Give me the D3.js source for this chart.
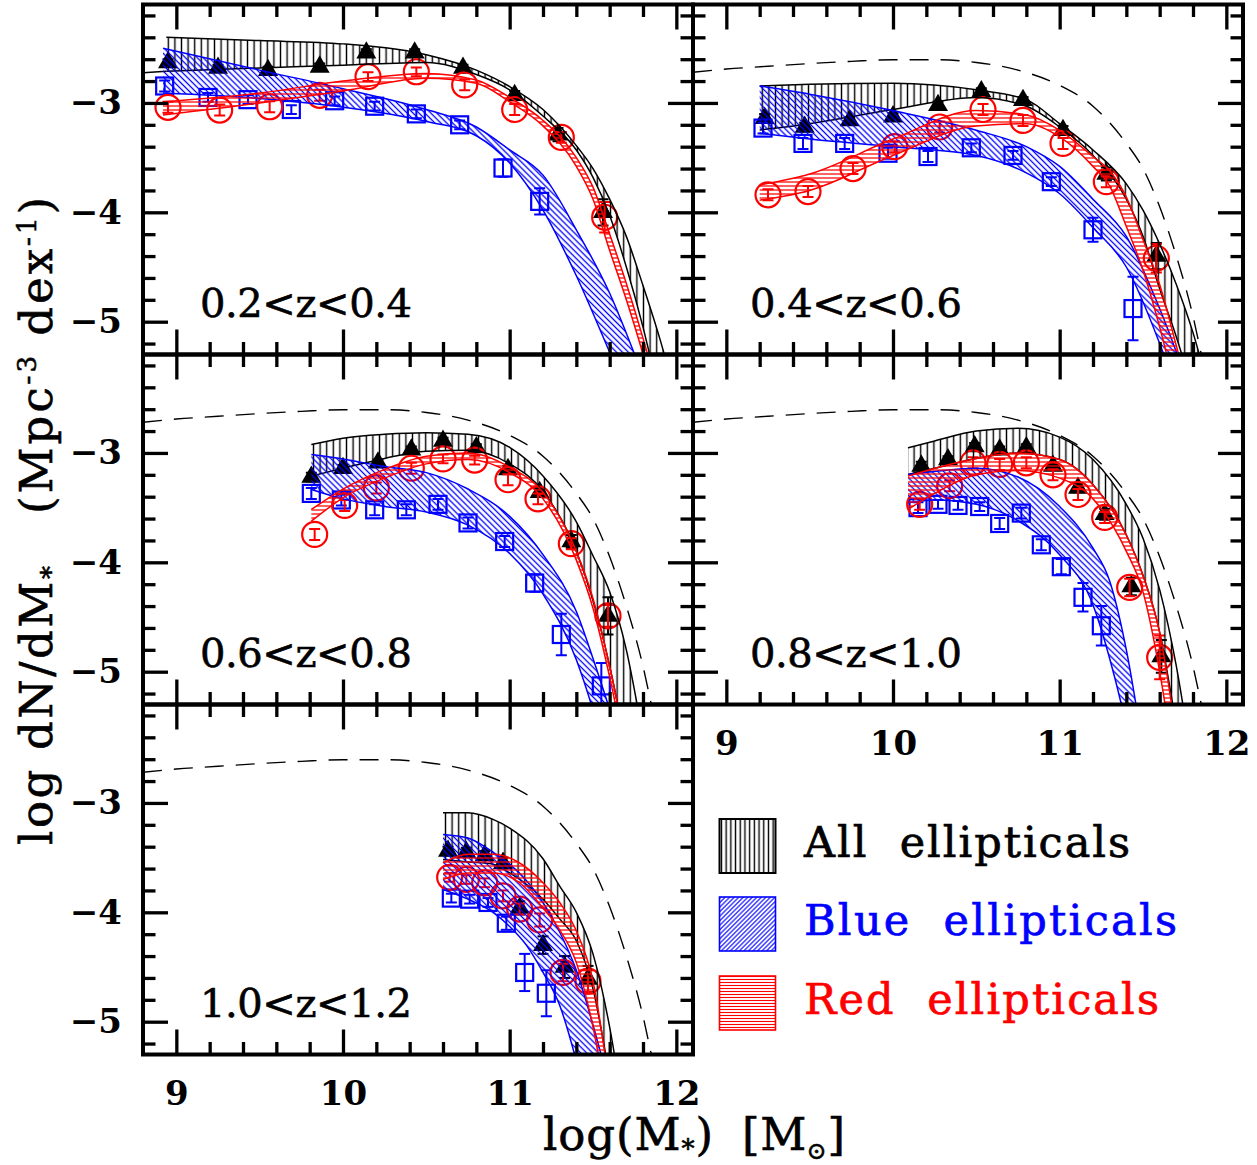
<!DOCTYPE html>
<html><head><meta charset="utf-8">
<script src="https://cdn.jsdelivr.net/npm/d3@7"></script>
<style>body{margin:0;background:#fff}svg{display:block}text{white-space:pre}</style>
</head><body>
<svg id="c" width="1257" height="1165"></svg>
<script>
// ---------------- data ----------------
const X_DOMAIN = [8.8, 12.1];
const Y_DOMAIN = [-5.3, -2.1];
const xMajorTicks = [9, 10, 11, 12];
const yMajorTicks = [-5, -4, -3];
const panelLabels = ["0.2<z<0.4", "0.4<z<0.6", "0.6<z<0.8", "0.8<z<1.0", "1.0<z<1.2"];
const legendLabels = ["All  ellipticals", "Blue  ellipticals", "Red  ellipticals"];

// reference (dashed) mass function
const dashX = [8.8, 9.0, 9.25, 9.5, 9.75, 10.0, 10.25, 10.5, 10.75, 11.0, 11.2, 11.4, 11.5, 11.6, 11.7, 11.8, 11.85, 11.95];
const dashY = [-2.72, -2.69, -2.665, -2.64, -2.62, -2.605, -2.605, -2.63, -2.70, -2.84, -3.03, -3.37, -3.60, -3.95, -4.40, -4.95, -5.3, -6.0];

// ---- panel 1: 0.2<z<0.4
const p1TriX = [8.95, 9.25, 9.55, 9.86, 10.14, 10.43, 10.72, 11.03, 11.29, 11.56];
const p1TriY = [-2.63, -2.68, -2.70, -2.67, -2.54, -2.54, -2.68, -2.93, -3.29, -4.00];
const p1TriE = [0.03, 0.03, 0.03, 0.03, 0.03, 0.03, 0.03, 0.04, 0.06, 0.12];
const p1SqX = [8.93, 9.19, 9.43, 9.69, 9.95, 10.19, 10.44, 10.70, 10.96, 11.18];
const p1SqY = [-2.845, -2.95, -2.97, -3.06, -2.98, -3.03, -3.10, -3.20, -3.595, -3.90];
const p1SqE = [0.05, 0.04, 0.04, 0.04, 0.04, 0.04, 0.04, 0.04, 0.08, 0.12];
const p1CirX = [8.95, 9.26, 9.56, 9.86, 10.15, 10.44, 10.73, 11.03, 11.31, 11.57];
const p1CirY = [-3.04, -3.065, -3.035, -2.93, -2.76, -2.715, -2.835, -3.06, -3.315, -4.045];
const p1CirE = [0.05, 0.05, 0.05, 0.05, 0.04, 0.04, 0.05, 0.05, 0.05, 0.14];
const p1AllX = [8.94, 9.5, 10.0, 10.5, 10.8, 11.0, 11.2, 11.4, 11.5, 11.6, 11.7, 11.8, 11.9, 12.0];
const p1AllHi = [-2.40, -2.43, -2.46, -2.56, -2.70, -2.85, -3.06, -3.39, -3.60, -3.88, -4.22, -4.67, -5.15, -5.7];
const p1AllLo = [-2.71, -2.68, -2.655, -2.63, -2.74, -2.88, -3.12, -3.43, -3.68, -4.03, -4.50, -5.05, -5.7, -6.4];
const p1AllLoExtX = [8.8, 8.94];
const p1AllLoExtY = [-2.725, -2.71];
const p1BlueX = [8.92, 9.5, 10.0, 10.5, 10.8, 11.0, 11.2, 11.4, 11.6, 11.8];
const p1BlueHi = [-2.50, -2.70, -2.87, -3.06, -3.22, -3.43, -3.66, -4.16, -4.74, -5.5];
const p1BlueLo = [-2.91, -2.96, -3.04, -3.17, -3.30, -3.55, -3.98, -4.58, -5.28, -6.0];
const p1RedX = [8.92, 9.5, 10.0, 10.5, 10.8, 11.0, 11.2, 11.4, 11.5, 11.6, 11.7, 11.8, 11.9];
const p1RedHi = [-2.99, -2.91, -2.80, -2.73, -2.79, -2.95, -3.16, -3.50, -3.77, -4.20, -4.65, -5.15, -5.7];
const p1RedLo = [-3.11, -3.00, -2.89, -2.775, -2.82, -2.99, -3.21, -3.58, -3.88, -4.35, -4.80, -5.30, -5.9];

// ---- panel 2: 0.4<z<0.6
const p2TriX = [9.23, 9.47, 9.74, 10.00, 10.27, 10.53, 10.78, 11.02, 11.28, 11.58];
const p2TriY = [-3.14, -3.22, -3.16, -3.125, -3.02, -2.895, -2.975, -3.25, -3.65, -4.40];
const p2TriE = [0.04, 0.04, 0.03, 0.03, 0.03, 0.03, 0.03, 0.04, 0.06, 0.12];
const p2SqX = [9.22, 9.46, 9.71, 9.97, 10.21, 10.47, 10.72, 10.95, 11.20, 11.44];
const p2SqY = [-3.23, -3.37, -3.37, -3.46, -3.49, -3.41, -3.48, -3.72, -4.16, -4.88];
const p2SqE = [0.05, 0.05, 0.05, 0.05, 0.05, 0.04, 0.04, 0.04, 0.11, 0.29];
const p2CirX = [9.25, 9.49, 9.76, 10.01, 10.28, 10.54, 10.78, 11.02, 11.28, 11.58];
const p2CirY = [-3.84, -3.81, -3.60, -3.40, -3.22, -3.06, -3.16, -3.37, -3.72, -4.42];
const p2CirE = [0.05, 0.05, 0.05, 0.05, 0.05, 0.05, 0.05, 0.05, 0.05, 0.13];
const p2AllX = [9.2, 9.5, 10.0, 10.5, 10.8, 11.0, 11.2, 11.4, 11.5, 11.6, 11.7, 11.8, 11.9];
const p2AllHi = [-2.845, -2.83, -2.82, -2.88, -2.97, -3.19, -3.43, -3.74, -3.98, -4.29, -4.66, -5.10, -5.65];
const p2AllLo = [-3.247, -3.19, -3.06, -2.95, -3.03, -3.22, -3.48, -3.88, -4.22, -4.70, -5.14, -5.65, -6.3];
const p2BlueX = [9.2, 9.5, 10.0, 10.5, 10.8, 11.0, 11.2, 11.4, 11.6, 11.8];
const p2BlueHi = [-2.845, -2.92, -3.07, -3.25, -3.40, -3.58, -3.88, -4.22, -4.88, -5.7];
const p2BlueLo = [-3.277, -3.33, -3.40, -3.48, -3.64, -3.83, -4.14, -4.50, -5.2, -6.1];
const p2RedX = [9.2, 9.5, 10.0, 10.5, 10.8, 11.0, 11.2, 11.3, 11.4, 11.5, 11.6, 11.7, 11.8];
const p2RedHi = [-3.75, -3.65, -3.33, -3.07, -3.11, -3.25, -3.49, -3.62, -3.86, -4.25, -4.66, -5.22, -5.8];
const p2RedLo = [-3.89, -3.80, -3.48, -3.21, -3.19, -3.31, -3.58, -3.76, -4.13, -4.53, -5.05, -5.65, -6.2];

// ---- panel 3: 0.6<z<0.8
const p3TriX = [9.81, 10.00, 10.21, 10.41, 10.60, 10.80, 10.99, 11.18, 11.37, 11.59];
const p3TriY = [-3.22, -3.14, -3.09, -2.97, -2.89, -2.95, -3.15, -3.36, -3.81, -4.49];
const p3TriE = [0.04, 0.03, 0.03, 0.03, 0.03, 0.03, 0.03, 0.04, 0.06, 0.17];
const p3SqX = [9.81, 9.99, 10.19, 10.38, 10.57, 10.75, 10.97, 11.15, 11.31, 11.55];
const p3SqY = [-3.37, -3.43, -3.52, -3.52, -3.47, -3.64, -3.81, -4.19, -4.66, -5.13];
const p3SqE = [0.05, 0.05, 0.05, 0.05, 0.05, 0.05, 0.05, 0.08, 0.19, 0.21];
const p3CirX = [9.83, 10.01, 10.20, 10.41, 10.60, 10.79, 10.99, 11.17, 11.37, 11.59];
const p3CirY = [-3.745, -3.48, -3.32, -3.14, -3.055, -3.065, -3.245, -3.42, -3.83, -4.49];
const p3CirE = [0.05, 0.05, 0.05, 0.05, 0.04, 0.04, 0.05, 0.05, 0.05, 0.10];
const p3AllX = [9.81, 10.0, 10.25, 10.5, 10.75, 11.0, 11.2, 11.4, 11.5, 11.6, 11.7, 11.8];
const p3AllHi = [-2.923, -2.865, -2.83, -2.816, -2.83, -2.95, -3.21, -3.63, -3.94, -4.27, -4.80, -5.6];
const p3AllLo = [-3.212, -3.14, -3.05, -2.985, -2.975, -3.10, -3.35, -3.90, -4.35, -4.95, -5.7, -6.5];
const p3BlueX = [9.81, 10.0, 10.25, 10.5, 10.75, 11.0, 11.2, 11.4, 11.5, 11.6, 11.7];
const p3BlueHi = [-3.014, -3.055, -3.125, -3.18, -3.33, -3.58, -3.93, -4.45, -4.88, -5.35, -5.9];
const p3BlueLo = [-3.334, -3.42, -3.49, -3.54, -3.66, -3.92, -4.29, -4.89, -5.35, -5.9, -6.5];
const p3RedX = [9.81, 10.0, 10.25, 10.5, 10.75, 11.0, 11.2, 11.4, 11.5, 11.6, 11.7];
const p3RedHi = [-3.517, -3.33, -3.15, -3.03, -3.0, -3.13, -3.36, -3.90, -4.33, -4.95, -5.7];
const p3RedLo = [-3.624, -3.41, -3.23, -3.10, -3.06, -3.18, -3.42, -3.98, -4.42, -5.05, -5.8];

// ---- panel 4: 0.8<z<1.0
const p4TriX = [10.17, 10.33, 10.49, 10.64, 10.80, 10.96, 11.11, 11.27, 11.43, 11.61];
const p4TriY = [-3.12, -3.06, -2.94, -2.97, -2.95, -3.12, -3.32, -3.56, -4.22, -4.86];
const p4TriE = [0.04, 0.03, 0.03, 0.03, 0.03, 0.03, 0.04, 0.05, 0.08, 0.15];
const p4SqX = [10.15, 10.27, 10.39, 10.52, 10.64, 10.77, 10.89, 11.01, 11.14, 11.25];
const p4SqY = [-3.50, -3.47, -3.48, -3.49, -3.645, -3.55, -3.84, -4.04, -4.32, -4.58];
const p4SqE = [0.05, 0.04, 0.04, 0.04, 0.05, 0.05, 0.05, 0.07, 0.13, 0.18];
const p4CirX = [10.16, 10.34, 10.48, 10.64, 10.80, 10.96, 11.11, 11.27, 11.42, 11.60];
const p4CirY = [-3.47, -3.30, -3.09, -3.105, -3.09, -3.20, -3.38, -3.59, -4.23, -4.87];
const p4CirE = [0.05, 0.05, 0.05, 0.05, 0.05, 0.05, 0.05, 0.05, 0.08, 0.20];
const p4AllX = [10.09, 10.25, 10.5, 10.75, 11.0, 11.2, 11.4, 11.5, 11.6, 11.7, 11.8];
const p4AllHi = [-2.953, -2.89, -2.80, -2.775, -2.855, -3.06, -3.47, -3.78, -4.25, -4.95, -5.9];
const p4AllLo = [-3.197, -3.14, -3.05, -3.0, -3.06, -3.29, -3.75, -4.12, -4.64, -5.5, -6.5];
const p4BlueX = [10.09, 10.25, 10.5, 10.75, 11.0, 11.2, 11.3, 11.4, 11.5];
const p4BlueHi = [-3.197, -3.17, -3.14, -3.22, -3.49, -3.87, -4.17, -4.80, -5.7];
const p4BlueLo = [-3.456, -3.43, -3.47, -3.62, -3.93, -4.39, -4.88, -5.5, -6.3];
const p4RedX = [10.09, 10.25, 10.5, 10.75, 11.0, 11.2, 11.4, 11.5, 11.6, 11.7];
const p4RedHi = [-3.212, -3.14, -3.05, -3.0, -3.06, -3.29, -3.75, -4.12, -4.64, -5.6];
const p4RedLo = [-3.517, -3.37, -3.20, -3.16, -3.23, -3.42, -3.90, -4.27, -5.0, -6.0];

// ---- panel 5: 1.0<z<1.2
const p5TriX = [10.63, 10.74, 10.85, 10.96, 11.06, 11.20, 11.33, 11.47];
const p5TriY = [-3.44, -3.45, -3.48, -3.55, -3.96, -4.30, -4.50, -4.61];
const p5TriE = [0.04, 0.04, 0.04, 0.05, 0.06, 0.08, 0.10, 0.12];
const p5SqX = [10.65, 10.76, 10.87, 10.98, 11.09, 11.22];
const p5SqY = [-3.87, -3.88, -3.91, -4.10, -4.55, -4.74];
const p5SqE = [0.04, 0.04, 0.04, 0.06, 0.17, 0.21];
const p5CirX = [10.64, 10.74, 10.85, 10.96, 11.06, 11.18, 11.32, 11.47];
const p5CirY = [-3.68, -3.70, -3.73, -3.85, -3.97, -4.07, -4.55, -4.63];
const p5CirE = [0.04, 0.04, 0.04, 0.05, 0.05, 0.06, 0.08, 0.10];
const p5AllX = [10.60, 10.75, 10.9, 11.0, 11.2, 11.3, 11.4, 11.5, 11.6, 11.7];
const p5AllHi = [-3.09, -3.09, -3.15, -3.23, -3.51, -3.76, -4.0, -4.38, -5.05, -6.0];
const p5AllLo = [-3.517, -3.54, -3.56, -3.64, -3.88, -4.06, -4.26, -4.70, -5.5, -6.3];
const p5BlueX = [10.60, 10.75, 10.9, 11.0, 11.1, 11.2, 11.3, 11.4, 11.5, 11.6];
const p5BlueHi = [-3.288, -3.32, -3.45, -3.56, -3.71, -3.91, -4.18, -4.53, -5.03, -5.6];
const p5BlueLo = [-3.791, -3.88, -4.0, -4.13, -4.30, -4.55, -4.85, -5.36, -6.0, -6.8];
const p5RedX = [10.60, 10.75, 10.9, 11.05, 11.2, 11.3, 11.4, 11.5, 11.6];
const p5RedHi = [-3.547, -3.47, -3.47, -3.54, -3.73, -3.91, -4.17, -4.63, -5.6];
const p5RedLo = [-3.70, -3.64, -3.64, -3.72, -3.96, -4.16, -4.46, -5.05, -5.9];

// ---------------- layout ----------------
const PL = 143, PT = 4.5, PW = 550, PH = 350;
const BLUE = "#0000ff", RED = "#ff0000", BLACK = "#000000";
const FONT = "'DejaVu Serif', serif";

const panels = [
  {col:0,row:0,label:panelLabels[0],dash:false,xLab:false,yLab:true,
   all:[p1AllX,p1AllHi,p1AllLo],blue:[p1BlueX,p1BlueHi,p1BlueLo],red:[p1RedX,p1RedHi,p1RedLo],
   tri:[p1TriX,p1TriY,p1TriE],sq:[p1SqX,p1SqY,p1SqE],cir:[p1CirX,p1CirY,p1CirE],ext:[p1AllLoExtX,p1AllLoExtY]},
  {col:1,row:0,label:panelLabels[1],dash:true,xLab:false,yLab:false,
   all:[p2AllX,p2AllHi,p2AllLo],blue:[p2BlueX,p2BlueHi,p2BlueLo],red:[p2RedX,p2RedHi,p2RedLo],
   tri:[p2TriX,p2TriY,p2TriE],sq:[p2SqX,p2SqY,p2SqE],cir:[p2CirX,p2CirY,p2CirE]},
  {col:0,row:1,label:panelLabels[2],dash:true,xLab:false,yLab:true,
   all:[p3AllX,p3AllHi,p3AllLo],blue:[p3BlueX,p3BlueHi,p3BlueLo],red:[p3RedX,p3RedHi,p3RedLo],
   tri:[p3TriX,p3TriY,p3TriE],sq:[p3SqX,p3SqY,p3SqE],cir:[p3CirX,p3CirY,p3CirE]},
  {col:1,row:1,label:panelLabels[3],dash:true,xLab:true,yLab:false,
   all:[p4AllX,p4AllHi,p4AllLo],blue:[p4BlueX,p4BlueHi,p4BlueLo],red:[p4RedX,p4RedHi,p4RedLo],
   tri:[p4TriX,p4TriY,p4TriE],sq:[p4SqX,p4SqY,p4SqE],cir:[p4CirX,p4CirY,p4CirE]},
  {col:0,row:2,label:panelLabels[4],dash:true,xLab:true,yLab:true,
   all:[p5AllX,p5AllHi,p5AllLo],blue:[p5BlueX,p5BlueHi,p5BlueLo],red:[p5RedX,p5RedHi,p5RedLo],
   tri:[p5TriX,p5TriY,p5TriE],sq:[p5SqX,p5SqY,p5SqE],cir:[p5CirX,p5CirY,p5CirE]}
];

const svg = d3.select("#c");
const defs = svg.append("defs");
function hatch(id, spacing, angle, color, sw) {
  const p = defs.append("pattern").attr("id", id).attr("patternUnits", "userSpaceOnUse")
    .attr("width", spacing).attr("height", spacing)
    .attr("patternTransform", `rotate(${angle})`);
  p.append("line").attr("x1", -1).attr("y1", spacing / 2).attr("x2", spacing + 1).attr("y2", spacing / 2)
    .attr("stroke", color).attr("stroke-width", sw);
}
hatch("hAll", 6.6, 90, BLACK, 1.4);
hatch("hBlue", 4.2, 45, BLUE, 1.3);
hatch("hRed", 4.0, 0, RED, 1.25);
hatch("lAll", 4.7, 90, BLACK, 1.4);
hatch("lBlue", 3.2, -45, BLUE, 1.1);
hatch("lRed", 3.0, 0, RED, 1.1);

const minorX = d3.range(9.0, 12.05, 0.2).map(v => +v.toFixed(1)).filter(v => Math.abs(v - Math.round(v)) > 1e-6);
const minorY = d3.range(-5.2, -2.15, 0.2).map(v => +v.toFixed(1)).filter(v => Math.abs(v - Math.round(v)) > 1e-6);

panels.forEach((P, i) => {
  const left = PL + P.col * PW, top = PT + P.row * PH;
  const x = d3.scaleLinear().domain(X_DOMAIN).range([left, left + PW]);
  const y = d3.scaleLinear().domain(Y_DOMAIN).range([top + PH, top]);
  defs.append("clipPath").attr("id", "clip" + i).append("rect")
    .attr("x", left).attr("y", top).attr("width", PW).attr("height", PH);
  const g = svg.append("g").attr("clip-path", `url(#clip${i})`);

  if (P.dash) {
    g.append("path").datum(d3.zip(dashX, dashY))
      .attr("d", d3.line().x(d => x(d[0])).y(d => y(d[1])).curve(d3.curveMonotoneX))
      .attr("fill", "none").attr("stroke", BLACK).attr("stroke-width", 1.4).attr("stroke-dasharray", "19,12");
  }

  function errs(arr, color) {
    const pts = d3.zip(arr[0], arr[1], arr[2]);
    const eg = g.append("g").attr("stroke", color).attr("stroke-width", 2).attr("fill", "none");
    pts.forEach(d => {
      const cx = x(d[0]), y1 = y(d[1] + d[2]), y2 = y(d[1] - d[2]);
      eg.append("line").attr("x1", cx).attr("x2", cx).attr("y1", y1).attr("y2", y2);
      eg.append("line").attr("x1", cx - 5.5).attr("x2", cx + 5.5).attr("y1", y1).attr("y2", y1);
      eg.append("line").attr("x1", cx - 5.5).attr("x2", cx + 5.5).attr("y1", y2).attr("y2", y2);
    });
    return pts;
  }
  const tp = errs(P.tri, BLACK);
  g.append("g").selectAll("path").data(tp).join("path")
    .attr("d", "M0,-11.5L10,5.8L-10,5.8Z")
    .attr("transform", d => `translate(${x(d[0])},${y(d[1])})`).attr("fill", BLACK);
  const sp = errs(P.sq, BLUE);
  g.append("g").selectAll("rect").data(sp).join("rect")
    .attr("x", d => x(d[0]) - 8.5).attr("y", d => y(d[1]) - 8.5).attr("width", 17).attr("height", 17)
    .attr("fill", "none").attr("stroke", BLUE).attr("stroke-width", 2.2);
  const cp = errs(P.cir, RED);
  g.append("g").selectAll("circle").data(cp).join("circle")
    .attr("cx", d => x(d[0])).attr("cy", d => y(d[1])).attr("r", 12.5)
    .attr("fill", "none").attr("stroke", RED).attr("stroke-width", 2.2);

  function band(arr, pat, color) {
    const data = d3.zip(arr[0], arr[1], arr[2]);
    g.append("path").datum(data)
      .attr("d", d3.area().x(d => x(d[0])).y1(d => y(d[1])).y0(d => y(d[2])).curve(d3.curveMonotoneX))
      .attr("fill", `url(#${pat})`).attr("stroke", "none");
    [1, 2].forEach(k => {
      g.append("path").datum(data)
        .attr("d", d3.line().x(d => x(d[0])).y(d => y(d[k])).curve(d3.curveMonotoneX))
        .attr("fill", "none").attr("stroke", color).attr("stroke-width", 1.5);
    });
  }
  band(P.all, "hAll", BLACK);
  if (P.ext) {
    g.append("path").datum(d3.zip(P.ext[0], P.ext[1]))
      .attr("d", d3.line().x(d => x(d[0])).y(d => y(d[1])))
      .attr("fill", "none").attr("stroke", BLACK).attr("stroke-width", 1.5);
  }
  band(P.blue, "hBlue", BLUE);
  band(P.red, "hRed", RED);

  const ax = svg.append("g");
  function addAxis(gen, tx, ty) {
    const a = ax.append("g").attr("transform", `translate(${tx},${ty})`).call(gen);
    a.select(".domain").remove();
    a.selectAll(".tick line").attr("stroke", BLACK).attr("stroke-width", 3.3);
    return a;
  }
  const none = () => "";
  addAxis(d3.axisBottom(x).tickValues(minorX).tickSize(-12.5).tickFormat(none), 0, top + PH);
  addAxis(d3.axisTop(x).tickValues(minorX).tickSize(-12.5).tickFormat(none), 0, top);
  addAxis(d3.axisTop(x).tickValues(xMajorTicks).tickSize(-25).tickFormat(none), 0, top);
  const bx = addAxis(d3.axisBottom(x).tickValues(xMajorTicks).tickSize(-25).tickPadding(26)
    .tickFormat(P.xLab ? d3.format("d") : none), 0, top + PH);
  bx.selectAll("text").attr("font-family", FONT).attr("font-weight", "bold").attr("font-size", 34).attr("fill", BLACK);
  addAxis(d3.axisLeft(y).tickValues(minorY).tickSize(-12.5).tickFormat(none), left, 0);
  addAxis(d3.axisRight(y).tickValues(minorY).tickSize(-12.5).tickFormat(none), left + PW, 0);
  addAxis(d3.axisRight(y).tickValues(yMajorTicks).tickSize(-25).tickFormat(none), left + PW, 0);
  const ly = addAxis(d3.axisLeft(y).tickValues(yMajorTicks).tickSize(-25).tickPadding(21)
    .tickFormat(P.yLab ? d3.format("d") : none), left, 0);
  ly.selectAll("text").attr("font-family", FONT).attr("font-weight", "bold").attr("font-size", 34).attr("fill", BLACK);

  ax.append("rect").attr("x", left).attr("y", top).attr("width", PW).attr("height", PH)
    .attr("fill", "none").attr("stroke", BLACK).attr("stroke-width", 4);

  ax.append("text").attr("x", left + 57).attr("y", top + 312.5)
    .attr("font-family", FONT).attr("font-size", 40).attr("fill", BLACK)
    .attr("stroke", BLACK).attr("stroke-width", 0.6)
    .attr("textLength", 212).attr("lengthAdjust", "spacing").text(P.label);
});

// ---------------- legend ----------------
const legColors = [BLACK, BLUE, RED];
const legPats = ["lAll", "lBlue", "lRed"];
const legTops = [819, 897, 976];
const legWidths = [326, 373, 355];
legendLabels.forEach((t, i) => {
  svg.append("rect").attr("x", 719.5).attr("y", legTops[i]).attr("width", 56).attr("height", 54)
    .attr("fill", `url(#${legPats[i]})`).attr("stroke", legColors[i]).attr("stroke-width", i === 0 ? 2 : 1.6);
  svg.append("text").attr("x", 804).attr("y", legTops[i] + 38)
    .attr("font-family", FONT).attr("font-size", 43).attr("fill", legColors[i])
    .attr("stroke", legColors[i]).attr("stroke-width", 0.7)
    .attr("textLength", legWidths[i]).attr("lengthAdjust", "spacing").text(t);
});

// ---------------- axis titles ----------------
const xt1 = svg.append("text").attr("x", 543).attr("y", 1150).attr("font-family", FONT).attr("font-size", 45)
  .attr("fill", BLACK).attr("stroke", BLACK).attr("stroke-width", 0.6)
  .attr("textLength", 170).attr("lengthAdjust", "spacing");
xt1.append("tspan").text("log(M");
xt1.append("tspan").attr("font-size", 26).attr("dy", 8).text("*");
xt1.append("tspan").attr("dy", -8).text(")");
const xt2 = svg.append("text").attr("x", 742).attr("y", 1150).attr("font-family", FONT).attr("font-size", 45)
  .attr("fill", BLACK).attr("stroke", BLACK).attr("stroke-width", 0.6)
  .attr("textLength", 103).attr("lengthAdjust", "spacing");
xt2.append("tspan").text("[M");
xt2.append("tspan").attr("font-size", 24).attr("dy", 9).text("⊙");
xt2.append("tspan").attr("dy", -9).text("]");

const yt1 = svg.append("text").attr("transform", "translate(52,845) rotate(-90)")
  .attr("font-family", FONT).attr("font-size", 45).attr("fill", BLACK)
  .attr("stroke", BLACK).attr("stroke-width", 0.6)
  .attr("textLength", 279).attr("lengthAdjust", "spacing");
yt1.append("tspan").text("log dN/dM");
yt1.append("tspan").attr("font-size", 26).attr("dy", 8).text("*");
const yt2 = svg.append("text").attr("transform", "translate(52,514) rotate(-90)")
  .attr("font-family", FONT).attr("font-size", 45).attr("fill", BLACK)
  .attr("stroke", BLACK).attr("stroke-width", 0.6)
  .attr("textLength", 317).attr("lengthAdjust", "spacing");
yt2.append("tspan").text("(Mpc");
yt2.append("tspan").attr("font-size", 26).attr("dy", -16).text("-3");
yt2.append("tspan").attr("dy", 16).text(" dex");
yt2.append("tspan").attr("font-size", 26).attr("dy", -16).text("-1");
yt2.append("tspan").attr("dy", 16).text(")");
</script>
</body></html>
